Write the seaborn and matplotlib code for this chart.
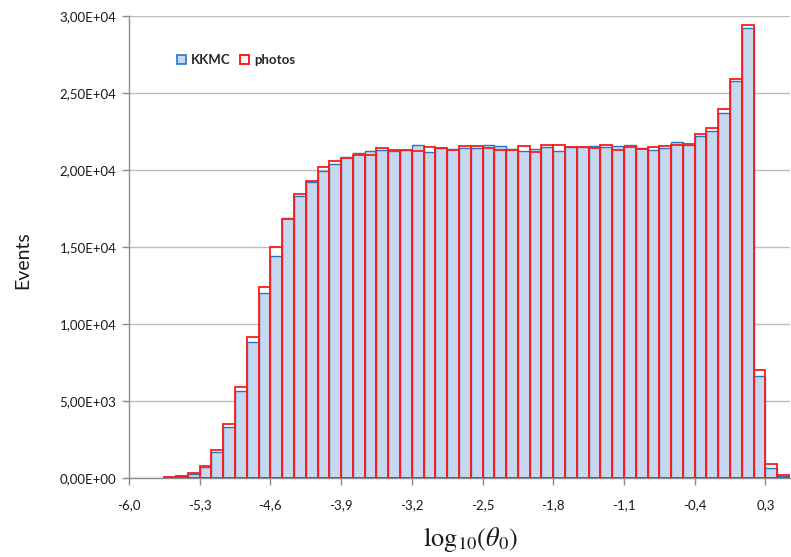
import numpy as np
import pandas as pd
import matplotlib
matplotlib.use("Agg")
import matplotlib.pyplot as plt
import seaborn as sns
from matplotlib.patches import Patch
from matplotlib.ticker import FuncFormatter

# ---- data (counts per bin, bins of width 0.7/6 starting at -6.0) ----
x_start = -6.0
n_bins = 56
kkmc = [0, 0, 0, 30, 100, 240, 720, 1710, 3330, 5650,
        8810, 12030, 14420, 16900, 18330, 19200, 19960, 20400, 20870, 21100,
        21250, 21320, 21210, 21280, 21640, 21150, 21430, 21360, 21430, 21430,
        21640, 21540, 21360, 21250, 21360, 21490, 21250, 21470, 21470, 21540,
        21510, 21540, 21640, 21430, 21320, 21450, 21820, 21600, 22230, 22550,
        23680, 25750, 29240, 6640, 670, 130]
photos = [0, 0, 0, 60, 155, 350, 760, 1820, 3480, 5930,
          9180, 12380, 15020, 16850, 18460, 19310, 20220, 20580, 20800, 20950,
          20990, 21430, 21320, 21300, 21230, 21470, 21430, 21280, 21540, 21540,
          21430, 21320, 21320, 21540, 21170, 21640, 21600, 21490, 21470, 21450,
          21620, 21280, 21470, 21380, 21490, 21540, 21640, 21710, 22340, 22750,
          23960, 25890, 29420, 7010, 910, 170]
xtick_values = [-6.0, -5.3, -4.6, -3.9, -3.2, -2.5, -1.8, -1.1, -0.4, 0.3]
xtick_labels = ["-6,0", "-5,3", "-4,6", "-3,9", "-3,2", "-2,5", "-1,8", "-1,1", "-0,4", "0,3"]
series_names = ["KKMC", "photos"]

bin_w = 0.7 / 6
edges = x_start + bin_w * np.arange(n_bins + 1)
centers = (edges[:-1] + edges[1:]) / 2
df = pd.DataFrame({"center": centers, "KKMC": kkmc, "photos": photos})

sns.set_style("white")
plt.rcParams["font.family"] = ["Lato", "DejaVu Sans"]
plt.rcParams["mathtext.fontset"] = "stix"

fig = plt.figure(figsize=(7.91, 5.57), dpi=100)
ax = fig.add_axes([129 / 791, 79 / 557, 661 / 791, 462 / 557])

blue_fill = "#C6D8EF"
blue_edge = "#2576C4"
red_edge = "#FF1A1A"

sns.histplot(data=df, x="center", weights="KKMC", bins=list(edges), ax=ax,
             element="bars", fill=True, color=blue_fill, alpha=1,
             edgecolor=blue_edge, linewidth=1.0, zorder=2)
sns.histplot(data=df, x="center", weights="photos", bins=list(edges), ax=ax,
             element="bars", fill=False, color=red_edge, linewidth=1.3, zorder=3)

for p in ax.patches:
    if p.get_height() == 0:
        p.set_visible(False)

ax.set_xlim(edges[0], edges[-1] + 0.01)
ax.set_ylim(0, 30000)
ax.set_yticks(np.arange(0, 30001, 5000))
ax.yaxis.set_major_formatter(FuncFormatter(lambda v, pos: f"{v:.2E}".replace(".", ",")))
ax.set_xticks(xtick_values)
ax.set_xticklabels(xtick_labels)

ax.grid(axis="y", color="#BEBEBE", linewidth=1.0, zorder=0)
ax.set_axisbelow(True)
for s in ["top", "right"]:
    ax.spines[s].set_visible(False)
for s in ["left", "bottom"]:
    ax.spines[s].set_color("#8C8C8C")
    ax.spines[s].set_linewidth(1.0)

ax.tick_params(axis="both", direction="out", length=5, width=1, color="#8C8C8C",
               labelsize=9.5, labelcolor="#1A1A1A", left=True, bottom=True)
ax.tick_params(axis="y", pad=4)
ax.tick_params(axis="x", pad=10)

ax.set_ylabel("Events", fontsize=14, color="#1A1A1A")
ax.yaxis.set_label_coords(-0.148, 0.472)
ax.set_xlabel(r"$\mathrm{log}_{10}(\theta_0)$", fontsize=19, color="#1A1A1A")
ax.xaxis.set_label_coords(0.517, -0.102)

handles = [Patch(facecolor=blue_fill, edgecolor=blue_edge, linewidth=1.2, label=series_names[0]),
           Patch(facecolor="white", edgecolor=red_edge, linewidth=1.4, label=series_names[1])]
ax.legend(handles=handles, loc="center left", bbox_to_anchor=(0.072, 0.905),
          frameon=False, ncol=2, handlelength=0.7, handleheight=0.7,
          handletextpad=0.35, columnspacing=0.75, borderpad=0, borderaxespad=0,
          prop={"weight": "bold", "size": 9.5})

fig.savefig("out.png", dpi=100)
